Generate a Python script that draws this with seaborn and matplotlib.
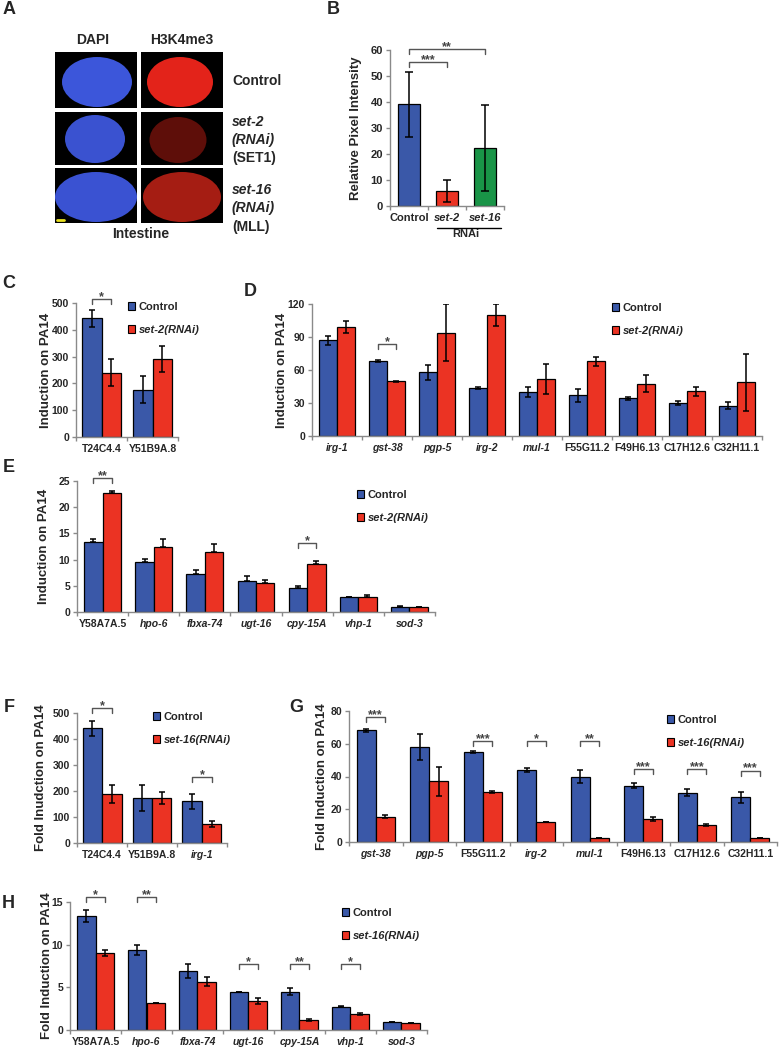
import numpy as np
import pandas as pd
import matplotlib.pyplot as plt
import matplotlib.patches as mpatches
import seaborn as sns

BLUE = '#3A58A8'
RED = '#EB3323'
GREEN = '#199447'
GRAY = '#8a8a8a'

# ---- panel B: H3K4me3 pixel intensity
b_groups = ['Control', 'set-2', 'set-16']
b_values = [39.2, 5.9, 22.4]
b_err_lo = [12.5, 4.25, 16.5]
b_err_hi = [12.5, 4.1, 16.5]

# ---- panel C
c_genes = ['T24C4.4', 'Y51B9A.8']
c_control = [443, 177]
c_control_err = [31, 50]
c_set2 = [240, 290]
c_set2_err = [50, 48]

# ---- panel D
d_genes = ['irg-1', 'gst-38', 'pgp-5', 'irg-2', 'mul-1',
           'F55G11.2', 'F49H6.13', 'C17H12.6', 'C32H11.1']
d_control = [87, 68.5, 57.8, 43.6, 40, 37, 34.2, 30, 27.5]
d_control_err = [4.2, 0.8, 7, 0.8, 4.2, 5.8, 1.6, 1.8, 3.2]
d_set2 = [99, 49.6, 94, 110, 51.5, 67.8, 47.5, 40.6, 48.8]
d_set2_err = [5.6, 0.8, 26, 10, 13.5, 4, 7.5, 4.2, 26]

# ---- panel E
e_genes = ['Y58A7A.5', 'hpo-6', 'fbxa-74', 'ugt-16', 'cpy-15A', 'vhp-1', 'sod-3']
e_control = [13.4, 9.5, 7.2, 6.0, 4.6, 2.8, 0.95]
e_control_err = [0.6, 0.55, 0.8, 0.9, 0.35, 0.0, 0.1]
e_set2 = [22.8, 12.5, 11.45, 5.5, 9.1, 2.8, 0.95]
e_set2_err = [0.2, 1.5, 1.45, 0.6, 0.7, 0.4, 0.0]

# ---- panel F
f_genes = ['T24C4.4', 'Y51B9A.8', 'irg-1']
f_control = [441, 175, 160]
f_control_err = [30, 50, 28]
f_set16 = [188, 174, 74]
f_set16_err = [35, 23, 12]

# ---- panel G
g_genes = ['gst-38', 'pgp-5', 'F55G11.2', 'irg-2', 'mul-1',
           'F49H6.13', 'C17H12.6', 'C32H11.1']
g_control = [68.3, 57.9, 55, 43.7, 40, 34.4, 30.2, 27.4]
g_control_err = [1, 8, 0.5, 1.2, 4, 1.5, 2, 3.3]
g_set16 = [15.5, 37, 30.5, 12, 2.2, 13.9, 10.2, 2.2]
g_set16_err = [0.8, 9, 0.6, 0, 0, 1.2, 0.6, 0]

# ---- panel H
h_genes = ['Y58A7A.5', 'hpo-6', 'fbxa-74', 'ugt-16', 'cpy-15A', 'vhp-1', 'sod-3']
h_control = [13.35, 9.35, 6.95, 4.45, 4.5, 2.75, 0.9]
h_control_err = [0.7, 0.6, 0.8, 0.05, 0.4, 0.05, 0]
h_set16 = [9.0, 3.2, 5.65, 3.4, 1.15, 1.85, 0.8]
h_set16_err = [0.35, 0, 0.55, 0.3, 0.15, 0.1, 0]

# significance brackets: (category index, stars, height)
c_sig = [(0, '*', 514)]
d_sig = [(1, '*', 83.6)]
e_sig = [(0, '**', 25.6), (4, '*', 13.1)]
f_sig = [(0, '*', 518), (2, '*', 253)]
g_sig = [(0, '***', 76.5), (2, '***', 61.4), (3, '*', 61.4), (4, '**', 61.4),
         (5, '***', 44.7), (6, '***', 44.7), (7, '***', 43.6)]
h_sig = [(0, '*', 15.55), (1, '**', 15.55), (3, '*', 7.7), (4, '**', 7.7), (5, '*', 7.7)]

W, H = 779, 1049
sns.set_style('white')
plt.rcParams['font.family'] = ['Liberation Sans', 'DejaVu Sans']
plt.rcParams['font.weight'] = 'bold'
plt.rcParams['axes.labelweight'] = 'bold'

fig = plt.figure(figsize=(W / 100, H / 100), dpi=100)


def px_axes(x0, y0, x1, y1):
    ax = fig.add_axes([x0 / W, 1 - y1 / H, (x1 - x0) / W, (y1 - y0) / H])
    ax.patch.set_alpha(0)
    return ax


def finish_axes(ax, n, ymax, yticks, ylabel, label_right, fs=7.5):
    ax.set_xlim(-0.5, n - 0.5)
    ax.set_ylim(0, ymax)
    ax.set_yticks(yticks)
    sns.despine(ax=ax)
    for side in ['left', 'bottom']:
        ax.spines[side].set_color(GRAY)
        ax.spines[side].set_linewidth(1)
    ax.tick_params(axis='y', left=True, direction='out', length=3, width=1,
                   color=GRAY, pad=2, labelsize=fs)
    ax.tick_params(axis='x', which='major', bottom=True, length=0, pad=5, labelsize=fs)
    ax.set_xticks(np.arange(n + 1) - 0.5, minor=True)
    ax.tick_params(axis='x', which='minor', bottom=True, direction='out',
                   length=3, width=1, color=GRAY)
    for lab in ax.get_xticklabels():
        if lab.get_text()[0].islower():
            lab.set_style('italic')
    ax.set_xlabel('')
    ax.set_ylabel(ylabel, fontsize=9.5)
    pos = ax.get_position()
    ax.yaxis.set_label_coords((label_right / W - pos.x0) / pos.width, 0.5)


def grouped(ax, genes, ctrl, ctrl_err, trt, trt_err, trt_name, width, upper_only=False):
    df = pd.DataFrame({
        'gene': genes * 2,
        'cond': ['Control'] * len(genes) + [trt_name] * len(genes),
        'value': ctrl + trt,
    })
    sns.barplot(data=df, x='gene', y='value', hue='cond', palette=[BLUE, RED],
                width=width, gap=0, edgecolor='black', linewidth=0.9,
                saturation=1, errorbar=None, legend=False, ax=ax)
    for cont, errs in zip(ax.containers, [ctrl_err, trt_err]):
        for bar, e in zip(cont, errs):
            xc = bar.get_x() + bar.get_width() / 2
            yerr = [[0], [e]] if upper_only else e
            ax.errorbar(xc, bar.get_height(), yerr=yerr, fmt='none', ecolor='black',
                        elinewidth=1.1, capsize=2, capthick=1.1)


def add_legend(ax, trt_name, x_px, y_px):
    handles = [mpatches.Patch(facecolor=BLUE, edgecolor='black', linewidth=0.8, label='Control'),
               mpatches.Patch(facecolor=RED, edgecolor='black', linewidth=0.8, label=trt_name)]
    leg = ax.legend(handles=handles, loc='upper left',
                    bbox_to_anchor=(x_px / W, 1 - y_px / H), bbox_transform=fig.transFigure,
                    frameon=False, fontsize=8, handlelength=0.65, handleheight=0.65,
                    handletextpad=0.3, labelspacing=1.15, borderpad=0, borderaxespad=0)
    leg.get_texts()[1].set_style('italic')


def bracket(ax, x_left, x_right, y, label, leg_px=5, fs=9):
    y0, y1 = ax.get_ylim()
    per_px = (y1 - y0) / (ax.get_position().height * H)
    ax.plot([x_left, x_left, x_right, x_right], [y - leg_px * per_px, y, y, y - leg_px * per_px],
            color='#555555', lw=1, clip_on=False)
    ax.text((x_left + x_right) / 2, y - 1.0 * per_px, label, ha='center', va='baseline',
            fontsize=fs, color='#444444', clip_on=False)


def group_brackets(ax, sig, width):
    for i, label, y in sig:
        bracket(ax, i - width / 4, i + width / 4, y, label)


# ---- B
axB = px_axes(390, 50, 504, 206)
sns.barplot(x=b_groups, y=b_values, hue=b_groups, palette=[BLUE, RED, GREEN],
            width=0.56, edgecolor='black', linewidth=0.9, saturation=1,
            errorbar=None, legend=False, ax=axB)
bars_b = sorted([p for c in axB.containers for p in c], key=lambda p: p.get_x())
for bar, lo, hi in zip(bars_b, b_err_lo, b_err_hi):
    axB.errorbar(bar.get_x() + bar.get_width() / 2, bar.get_height(), yerr=[[lo], [hi]],
                 fmt='none', ecolor='black', elinewidth=1.1, capsize=2.8, capthick=1.1)
finish_axes(axB, 3, 60, range(0, 61, 10), 'Relative Pixel Intensity', 362, fs=8)
bracket(axB, 0, 1, 55.4, '***')
bracket(axB, 0, 2, 60.4, '**')

# ---- C
axC = px_axes(76, 303, 178, 437)
grouped(axC, c_genes, c_control, c_control_err, c_set2, c_set2_err, 'set-2(RNAi)', 0.75)
finish_axes(axC, 2, 500, range(0, 501, 100), 'Induction on PA14', 52)
group_brackets(axC, c_sig, 0.75)
add_legend(axC, 'set-2(RNAi)', 128, 302)

# ---- D
axD = px_axes(312, 304, 762, 436)
grouped(axD, d_genes, d_control, d_control_err, d_set2, d_set2_err, 'set-2(RNAi)', 0.72)
finish_axes(axD, 9, 120, range(0, 121, 30), 'Induction on PA14', 288)
group_brackets(axD, d_sig, 0.72)
add_legend(axD, 'set-2(RNAi)', 612, 303)

# ---- E
axE = px_axes(77, 481, 435, 612)
grouped(axE, e_genes, e_control, e_control_err, e_set2, e_set2_err, 'set-2(RNAi)', 0.72,
        upper_only=True)
finish_axes(axE, 7, 25, range(0, 26, 5), 'Induction on PA14', 50)
group_brackets(axE, e_sig, 0.72)
add_legend(axE, 'set-2(RNAi)', 357, 490)

# ---- F
axF = px_axes(77, 713, 227, 843)
grouped(axF, f_genes, f_control, f_control_err, f_set16, f_set16_err, 'set-16(RNAi)', 0.78)
finish_axes(axF, 3, 500, range(0, 501, 100), 'Fold Inudction on PA14', 47)
group_brackets(axF, f_sig, 0.78)
add_legend(axF, 'set-16(RNAi)', 153, 712)

# ---- G
axG = px_axes(349, 711, 777, 842)
grouped(axG, g_genes, g_control, g_control_err, g_set16, g_set16_err, 'set-16(RNAi)', 0.71)
finish_axes(axG, 8, 80, range(0, 81, 20), 'Fold Induction on PA14', 328)
group_brackets(axG, g_sig, 0.71)
add_legend(axG, 'set-16(RNAi)', 667, 715)

# ---- H
axH = px_axes(70, 902, 427, 1030)
grouped(axH, h_genes, h_control, h_control_err, h_set16, h_set16_err, 'set-16(RNAi)', 0.71)
finish_axes(axH, 7, 15, range(0, 16, 5), 'Fold Induction on PA14', 53)
group_brackets(axH, h_sig, 0.71)
add_legend(axH, 'set-16(RNAi)', 342, 908)

# ---- overlay in pixel coordinates: panel A micrographs, letters, extra labels
ov = fig.add_axes([0, 0, 1, 1])
ov.set_xlim(0, W)
ov.set_ylim(H, 0)
ov.axis('off')
ov.patch.set_alpha(0)

cell_cols = [(55, 137), (141, 223)]
cell_rows = [(52, 108), (112, 165), (168, 223)]
# nucleus ellipses per cell: (cx, cy, w, h, colour)
nuclei = [
    [(97, 82, 70, 50, '#3C56DA'), (180, 82, 66, 50, '#E3231A')],
    [(95, 139, 60, 48, '#3A52D0'), (178, 140, 57, 46, '#5E0E09')],
    [(96, 197, 82, 50, '#3A52D2'), (182, 197, 78, 50, '#A51D13')],
]
for r, (y0, y1) in enumerate(cell_rows):
    for c, (x0, x1) in enumerate(cell_cols):
        rect = mpatches.Rectangle((x0, y0), x1 - x0, y1 - y0, facecolor='black',
                                  edgecolor='none')
        ov.add_patch(rect)
        cx, cy, ew, eh, col = nuclei[r][c]
        ell = mpatches.Ellipse((cx, cy), ew, eh, facecolor=col, edgecolor='none')
        ov.add_patch(ell)
        ell.set_clip_path(rect)
ov.plot([57, 64], [220, 220], color='#E8E020', lw=2)

ov.text(93, 40, 'DAPI', fontsize=10, ha='center', va='center')
ov.text(182, 40, 'H3K4me3', fontsize=10, ha='center', va='center')
ov.text(232, 81, 'Control', fontsize=10, ha='left', va='center')
ov.text(232, 122, 'set-2', fontsize=10, ha='left', va='center', style='italic')
ov.text(232, 140, '(RNAi)', fontsize=10, ha='left', va='center', style='italic')
ov.text(232, 158, '(SET1)', fontsize=10, ha='left', va='center')
ov.text(232, 190, 'set-16', fontsize=10, ha='left', va='center', style='italic')
ov.text(232, 208, '(RNAi)', fontsize=10, ha='left', va='center', style='italic')
ov.text(232, 227, '(MLL)', fontsize=10, ha='left', va='center')
ov.text(141, 234, 'Intestine', fontsize=10, ha='center', va='center')

ov.plot([437, 501], [228, 228], color='black', lw=1)
ov.text(466, 234, 'RNAi', fontsize=8, ha='center', va='center')

for letter, x, y in [('A', 9, 10), ('B', 333, 9), ('C', 9, 283), ('D', 250, 291),
                     ('E', 9, 467), ('F', 9, 708), ('G', 296, 707), ('H', 8, 903)]:
    ov.text(x, y, letter, fontsize=13, ha='center', va='center', fontweight='bold')

fig.savefig('out.png', dpi=100)
